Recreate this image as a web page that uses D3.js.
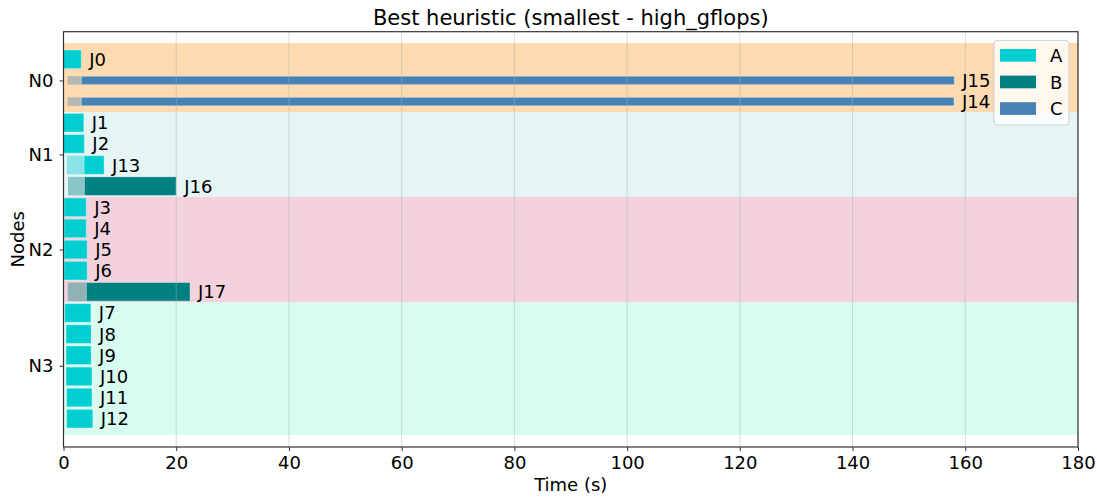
<!DOCTYPE html>
<html>
<head>
<meta charset="utf-8">
<script src="https://cdn.jsdelivr.net/npm/d3@7"></script>
<style>
  body { margin: 0; background: #fff; }
  svg { font-family: "DejaVu Sans", sans-serif; }
</style>
</head>
<body>
<svg id="chart" width="1097" height="497"></svg>
<script>
// Schedule: one row per job, grouped by node
const jobs     = ["J0","J15","J14","J1","J2","J13","J16","J3","J4","J5","J6","J17","J7","J8","J9","J10","J11","J12"];
const jobNode  = ["N0","N0","N0","N1","N1","N1","N1","N2","N2","N2","N2","N2","N3","N3","N3","N3","N3","N3"];
const jobType  = ["A","C","C","A","A","A","B","A","A","A","A","B","A","A","A","A","A","A"];
const submitT  = [0, 0.7, 0.7, 0, 0, 0.6, 0.8, 0.1, 0.1, 0.1, 0.1, 0.75, 0.2, 0.45, 0.45, 0.45, 0.55, 0.55];
const startT   = [0, 3.15, 3.15, 0, 0, 3.65, 3.7, 0.1, 0.1, 0.1, 0.1, 4.05, 0.2, 0.45, 0.45, 0.45, 0.55, 0.55];
const endT     = [3.15, 158.05, 158.0, 3.6, 3.7, 7.2, 20.0, 4.05, 4.05, 4.2, 4.2, 22.45, 4.85, 4.9, 4.9, 5.05, 5.05, 5.2];

const nodes      = ["N0","N1","N2","N3"];
const nodeColors = ["#fedab1","#e5f4f5","#f4d2dd","#d8fdf0"];
const types      = ["A","B","C"];
const typeColors = ["#00ced1","#008080","#4682b4"];
const xTicks     = [0,20,40,60,80,100,120,140,160,180];

const svg = d3.select("#chart");
const L = 63.5, R = 1078, T = 31.7, B = 447;

const x = d3.scaleLinear().domain([0,180]).range([L,R]);
const y = d3.scaleLinear().domain([-1.306, 18.34]).range([T,B]);
const color = d3.scaleOrdinal().domain(types).range(typeColors);

const rows = jobs.map((j,i) => ({job:j, node:jobNode[i], type:jobType[i], sub:submitT[i], st:startT[i], en:endT[i], row:i}));

// node bands
const bands = nodes.map((n,k) => {
  const idx = rows.filter(r => r.node === n).map(r => r.row);
  let lo = d3.min(idx) - 0.5, hi = d3.max(idx) + 0.5;
  if (k === 0) lo = d3.min(idx) - 0.77;
  if (k === nodes.length - 1) hi = d3.max(idx) + 0.77;
  return {node:n, lo, hi, mid:d3.mean(idx), color:nodeColors[k]};
});

svg.append("g").selectAll("rect").data(bands).join("rect")
  .attr("x", L).attr("width", R - L)
  .attr("y", d => y(d.lo)).attr("height", d => y(d.hi) - y(d.lo))
  .attr("fill", d => d.color);

// bars: waiting part (translucent) then execution part
const barH = t => t === "C" ? 0.4 : 0.88;
const gBars = svg.append("g");
gBars.selectAll("rect.wait").data(rows.filter(r => r.st > r.sub)).join("rect")
  .attr("class","wait")
  .attr("x", d => x(d.sub)).attr("width", d => x(d.st) - x(d.sub))
  .attr("y", d => y(d.row - barH(d.type)/2)).attr("height", d => y(barH(d.type)) - y(0))
  .attr("fill", d => color(d.type)).attr("fill-opacity", 0.4);
gBars.selectAll("rect.run").data(rows).join("rect")
  .attr("class","run")
  .attr("x", d => x(d.st)).attr("width", d => x(d.en) - x(d.st))
  .attr("y", d => y(d.row - barH(d.type)/2)).attr("height", d => y(barH(d.type)) - y(0))
  .attr("fill", d => color(d.type))
  .attr("stroke", "#ffffff").attr("stroke-opacity", 0.35).attr("stroke-width", 1);

// vertical grid
svg.append("g").selectAll("line").data(xTicks).join("line")
  .attr("x1", d => x(d)).attr("x2", d => x(d)).attr("y1", T).attr("y2", B)
  .attr("stroke", "#b0b0b0").attr("stroke-opacity", 0.45).attr("stroke-width", 1);

// job labels
svg.append("g").selectAll("text").data(rows).join("text")
  .attr("x", d => x(d.en) + 8).attr("y", d => y(d.row) + 6.5)
  .attr("font-size", 18).attr("fill", "#000").text(d => d.job);

// frame
svg.append("rect").attr("x", L).attr("y", T).attr("width", R - L).attr("height", B - T)
  .attr("fill", "none").attr("stroke", "#333").attr("stroke-width", 1.2);

// x axis
const xAxis = svg.append("g").attr("transform", `translate(0,${B})`)
  .call(d3.axisBottom(x).tickValues(xTicks).tickSize(4).tickPadding(5).tickFormat(d3.format("d")));
xAxis.select(".domain").remove();
xAxis.selectAll("text").attr("font-size", 18).attr("fill", "#000").attr("font-family", "DejaVu Sans");
xAxis.selectAll("line").attr("stroke", "#333");

// y axis (node names at the middle of each group)
const yAxis = svg.append("g").attr("transform", `translate(${L},0)`)
  .call(d3.axisLeft(y).tickValues(bands.map(b => b.mid)).tickSize(4).tickPadding(6)
        .tickFormat((d,i) => bands[i].node));
yAxis.select(".domain").remove();
yAxis.selectAll("text").attr("font-size", 18).attr("fill", "#000").attr("font-family", "DejaVu Sans");
yAxis.selectAll("line").attr("stroke", "#333");

// titles
svg.append("text").attr("x", (L + R)/2).attr("y", 24.5).attr("text-anchor","middle")
  .attr("font-size", 21).attr("fill","#000").text("Best heuristic (smallest - high_gflops)");
svg.append("text").attr("x", (L + R)/2).attr("y", 491).attr("text-anchor","middle")
  .attr("font-size", 18).attr("fill","#000").text("Time (s)");
svg.append("text").attr("transform", `translate(24,${(T + B)/2}) rotate(-90)`).attr("text-anchor","middle")
  .attr("font-size", 18).attr("fill","#000").text("Nodes");

// legend
const lg = svg.append("g").attr("transform", "translate(994,40.7)");
lg.append("rect").attr("width", 75).attr("height", 84.3).attr("rx", 3)
  .attr("fill", "#fff").attr("fill-opacity", 0.8).attr("stroke", "#d0d0d0");
types.forEach((t,i) => {
  lg.append("rect").attr("x", 6).attr("y", 8.3 + i*26.6).attr("width", 36).attr("height", 12.7)
    .attr("fill", color(t));
  lg.append("text").attr("x", 56).attr("y", 21.5 + i*26.6).attr("font-size", 18).attr("fill","#000").text(t);
});
</script>
</body>
</html>
